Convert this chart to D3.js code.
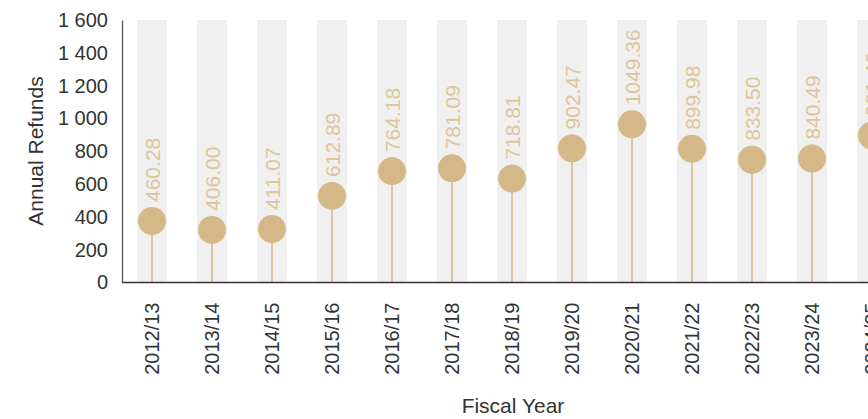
<!DOCTYPE html>
<html>
<head>
<meta charset="utf-8">
<script src="https://cdn.jsdelivr.net/npm/d3@7/dist/d3.min.js"></script>
<style>
  html, body { margin: 0; padding: 0; background: #fff; overflow: hidden; }
  svg { display: block; font-family: "Liberation Sans", Arial, sans-serif; }
</style>
</head>
<body>
<script>
// Annual refunds per fiscal year
const fiscalYears = ["2012/13", "2013/14", "2014/15", "2015/16", "2016/17", "2017/18",
  "2018/19", "2019/20", "2020/21", "2021/22", "2022/23", "2023/24", "2024/25"];
const refunds = [460.28, 406.00, 411.07, 612.89, 764.18, 781.09,
  718.81, 902.47, 1049.36, 899.98, 833.50, 840.49, 981.46];
const yTicks = [0, 200, 400, 600, 800, 1000, 1200, 1400, 1600];

const width = 960, height = 419;
const margin = { top: 20, left: 122 };
const plotBottom = 282.5;
const step = 60;
const radius = 14;
const gold = "#d5b887";
const labelGold = "#dcc69d";

const svg = d3.select("body").append("svg")
  .attr("width", width).attr("height", height);

const x = d3.scaleBand()
  .domain(fiscalYears)
  .range([margin.left, margin.left + step * fiscalYears.length])
  .paddingInner(0.5)
  .paddingOuter(0.25);

const y = d3.scaleLinear().domain([0, 1600]).range([plotBottom, margin.top]);

const fmt = d3.formatLocale({ decimal: ".", thousands: " ", grouping: [3], currency: ["", ""] }).format(",d");

// Full-height background columns
svg.append("g").selectAll("rect")
  .data(fiscalYears)
  .join("rect")
  .attr("x", d => x(d))
  .attr("y", y(1600))
  .attr("width", x.bandwidth())
  .attr("height", y(0) - y(1600))
  .attr("fill", "#f0f0f0");

const data = fiscalYears.map((f, i) => ({ year: f, value: refunds[i] }));
const cx = d => x(d.year) + x.bandwidth() / 2;

// Stems
svg.append("g").selectAll("line")
  .data(data)
  .join("line")
  .attr("x1", cx).attr("x2", cx)
  .attr("y1", y(0)).attr("y2", d => y(d.value))
  .attr("stroke", gold).attr("stroke-width", 1.5);

// Heads: top of the circle sits on the value
svg.append("g").selectAll("circle")
  .data(data)
  .join("circle")
  .attr("cx", cx)
  .attr("cy", d => y(d.value) + radius)
  .attr("r", radius)
  .attr("fill", gold);

// Value labels
svg.append("g").selectAll("text")
  .data(data)
  .join("text")
  .attr("transform", d => `translate(${cx(d) + 8},${y(d.value) - 5}) rotate(-90)`)
  .attr("fill", labelGold)
  .attr("font-size", 21)
  .text(d => d.value.toFixed(2));

// Y axis
const yAxis = svg.append("g")
  .attr("transform", `translate(${margin.left},0)`)
  .call(d3.axisLeft(y).tickValues(yTicks).tickFormat(fmt).tickSize(0).tickPadding(14));
yAxis.select(".domain").attr("stroke", "#555").attr("stroke-width", 1.3);
yAxis.selectAll("text").attr("font-size", 20).attr("fill", "#333")
  .attr("font-family", "Liberation Sans, Arial, sans-serif");

// X axis
const xAxis = svg.append("g")
  .attr("transform", `translate(0,${plotBottom})`)
  .call(d3.axisBottom(x).tickSize(0).tickPadding(0));
xAxis.select(".domain").attr("stroke", "#333").attr("stroke-width", 1.3)
  .attr("d", `M${margin.left},0H${width}`);
xAxis.selectAll("text")
  .attr("font-size", 20).attr("fill", "#333")
  .attr("font-family", "Liberation Sans, Arial, sans-serif")
  .attr("text-anchor", "end")
  .attr("dy", null)
  .attr("transform", "translate(7,20) rotate(-90)");

// Axis titles
svg.append("text")
  .attr("x", 513).attr("y", 413)
  .attr("text-anchor", "middle")
  .attr("font-size", 21).attr("fill", "#333")
  .text("Fiscal Year");

svg.append("text")
  .attr("transform", "translate(43,151) rotate(-90)")
  .attr("text-anchor", "middle")
  .attr("font-size", 21).attr("fill", "#333")
  .text("Annual Refunds");
</script>
</body>
</html>
